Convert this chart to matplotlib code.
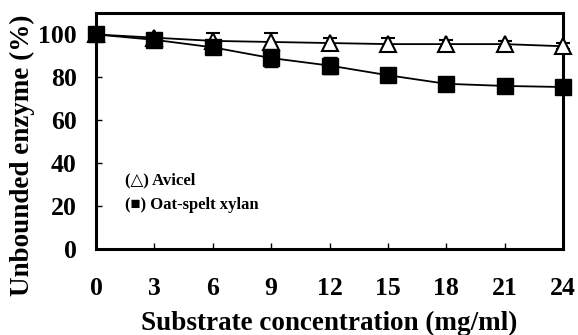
import matplotlib
matplotlib.use("Agg")
import matplotlib.pyplot as plt

plt.rcParams['font.family'] = ['Liberation Serif', 'DejaVu Serif']
plt.rcParams['font.weight'] = 'bold'

conc = [0, 3, 6, 9, 12, 15, 18, 21, 24]
avicel = [100, 98.5, 97, 96.5, 96, 95.5, 95.5, 95.5, 94.5]
avicel_err = [0.5, 1, 3.5, 4, 2.5, 3, 2, 1.5, 1.5]
xylan = [100, 97.5, 94, 89, 85.5, 81, 77, 76, 75.5]
xylan_err = [0.5, 1.5, 2, 4, 4, 2, 2.5, 2, 1]

fig = plt.figure(figsize=(5.78, 3.35), dpi=100)
ax = fig.add_axes([96/578, 1-249/335, (563-96)/578, (249-13)/335])

ax.errorbar(conc, avicel, yerr=avicel_err, color='black', marker='^', ms=12,
            mfc='white', mec='black', mew=1.5, lw=1.3, capsize=5, elinewidth=1.2,
            clip_on=False, zorder=3)
ax.errorbar(conc, xylan, yerr=xylan_err, color='black', marker='s', ms=11,
            mfc='black', mec='black', lw=1.3, capsize=5, elinewidth=1.2,
            clip_on=False, zorder=4)

ax.set_xlim(0, 24)
ax.set_ylim(0, 110)
ax.set_xticks(conc)
ax.set_yticks([0, 20, 40, 60, 80, 100])
ax.tick_params(direction='in', length=4, width=1, labelsize=18.5)
ax.tick_params(axis='x', pad=20)
ax.tick_params(axis='y', pad=14)
for s in ax.spines.values():
    s.set_linewidth(2.2)

ax.set_xlabel('Substrate concentration (mg/ml)', fontsize=19.5, fontweight='bold', labelpad=8)
fig.text(22/578, 1-155/335, 'Unbounded enzyme (%)', rotation=90, fontsize=19.5,
         fontweight='bold', ha='center', va='center')

ax.text(1.5, 32, '(\u25b3) Avicel', fontsize=12, fontweight='bold',
        family=['Liberation Serif', 'DejaVu Sans'], va='center')
ax.text(1.5, 20.5, '(\u25a0) Oat-spelt xylan', fontsize=12, fontweight='bold',
        family=['Liberation Serif', 'DejaVu Sans'], va='center')

fig.savefig('out.png', dpi=100)
